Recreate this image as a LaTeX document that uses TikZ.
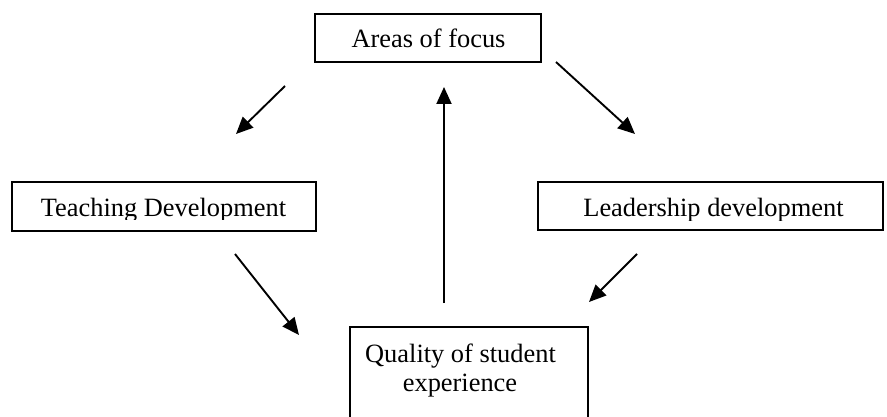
\documentclass[tikz,border=0pt]{standalone}
\usepackage{fontspec}
\setmainfont{Liberation Serif}
\usetikzlibrary{arrows.meta}
\begin{document}
\begin{tikzpicture}[x=1pt,y=-1pt,
  boxstyle/.style={draw=black,line width=1.8pt,rectangle,inner sep=0pt},
  lbl/.style={inner sep=0pt,anchor=base,font=\fontsize{26.4}{30}\selectfont},
  arr/.style={line width=1.9pt,-{Triangle[length=17pt,width=15pt]}}]
\clip (0,0) rectangle (887,417);
\fill[white] (0,0) rectangle (887,417);
% boxes
\node[boxstyle,minimum width=226pt,minimum height=48pt] (areas) at (428,38) {};
\node[boxstyle,minimum width=304pt,minimum height=49pt] (teach) at (164,206.5) {};
\node[boxstyle,minimum width=345pt,minimum height=48pt] (lead) at (710.5,206) {};
\node[boxstyle,minimum width=238pt,minimum height=133pt] (qual) at (469,393.5) {};
% texts
\node[lbl] (areastxt) at (428.5,48) {Areas of focus};
\begin{scope}
\clip (12,182) rectangle (316,219.5);
\node[lbl] (teachtxt) at (163.5,217) {Teaching Development};
\end{scope}
\begin{scope}
\clip (538,182) rectangle (883,220.5);
\node[lbl] (leadtxt) at (713.5,216) {Leadership development};
\end{scope}
\node[lbl] (qualtxta) at (460.5,362) {Quality of student};
\node[lbl] (qualtxtb) at (460,391) {experience};
% arrow end points
\coordinate (a1s) at (285,86);   \coordinate (a1e) at (236,134);
\coordinate (a2s) at (556,62);   \coordinate (a2e) at (635,134);
\coordinate (a3s) at (444,303);  \coordinate (a3e) at (444,87);
\coordinate (a4s) at (235,254);  \coordinate (a4e) at (299,335);
\coordinate (a5s) at (637,254);  \coordinate (a5e) at (589,302);
\draw[arr] (a1s) -- (a1e);
\draw[arr] (a2s) -- (a2e);
\draw[arr] (a3s) -- (a3e);
\draw[arr] (a4s) -- (a4e);
\draw[arr] (a5s) -- (a5e);
\end{tikzpicture}
\end{document}
